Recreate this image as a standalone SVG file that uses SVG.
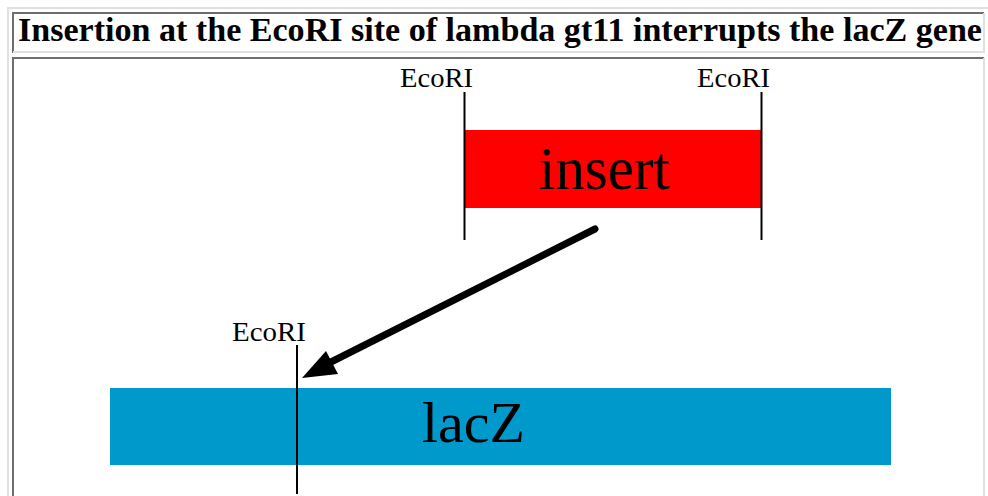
<svg xmlns="http://www.w3.org/2000/svg" width="988" height="496" viewBox="0 0 988 496">
<style>
.site{font-family:"Liberation Serif","Times New Roman",serif;font-size:27px;fill:#000}
.big{font-family:"Liberation Serif","Times New Roman",serif;fill:#000}
.cut{stroke:#000;stroke-width:2;fill:none}
</style>
<rect x="0" y="0" width="988" height="496" fill="#fff"/>
<g id="table">
<rect x="8" y="8" width="982" height="500" fill="none" stroke="#e0e0e0" stroke-width="2"/>
<path d="M13 53V13H984" fill="none" stroke="#6e6e6e" stroke-width="2"/>
<path d="M13 52H984V13" fill="none" stroke="#e0e0e0" stroke-width="2"/>
<path d="M13 500V58H984" fill="none" stroke="#6e6e6e" stroke-width="2"/>
<path d="M984 58V500" fill="none" stroke="#e0e0e0" stroke-width="2"/>
<text x="18" y="41" class="big" font-size="33" font-weight="bold" textLength="964" lengthAdjust="spacingAndGlyphs">Insertion at the EcoRI site of lambda gt11 interrupts the lacZ gene</text>
</g>
<g id="insert">
<rect x="464" y="130" width="298" height="78" fill="#ff0000"/>
<text x="539" y="189" class="big" font-size="62" textLength="131" lengthAdjust="spacingAndGlyphs">insert</text>
</g>
<g id="site-left">
<text x="400" y="87" class="site" textLength="73" lengthAdjust="spacingAndGlyphs">EcoRI</text>
<line x1="464.5" y1="92" x2="464.5" y2="240" class="cut"/>
</g>
<g id="site-right">
<text x="697" y="87" class="site" textLength="73" lengthAdjust="spacingAndGlyphs">EcoRI</text>
<line x1="761.5" y1="92" x2="761.5" y2="240" class="cut"/>
</g>
<g id="lacZ">
<rect x="110" y="388" width="781" height="77" fill="#0099cc"/>
<text x="422" y="442" class="big" font-size="58" textLength="103" lengthAdjust="spacingAndGlyphs">lacZ</text>
</g>
<g id="site-lacZ">
<text x="232" y="341" class="site" textLength="74" lengthAdjust="spacingAndGlyphs">EcoRI</text>
<line x1="297" y1="345" x2="297" y2="494" class="cut"/>
</g>
<g id="connectors">
<line x1="595" y1="229" x2="331" y2="362" stroke="#000" stroke-width="7" stroke-linecap="round"/>
<polygon points="302,378 326,351 338,374" fill="#000"/>
</g>
</svg>
